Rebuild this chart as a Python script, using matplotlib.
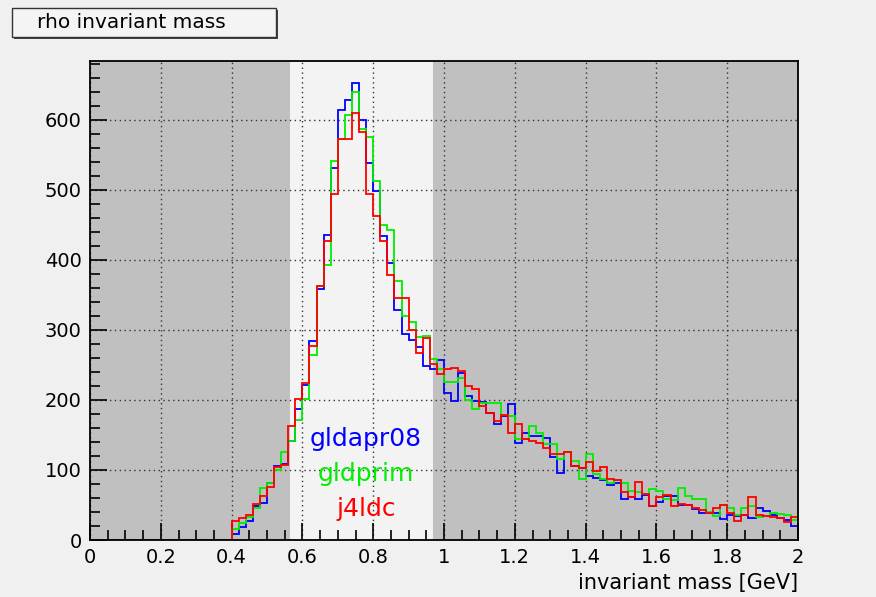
import numpy as np
import matplotlib.pyplot as plt
from matplotlib.patches import Rectangle

# histogram: 100 bins from 0 to 2 GeV, first 20 bins (0 - 0.4) empty
edges = np.linspace(0, 2, 101)
empty = [0] * 20

gldapr08 = [8, 18, 27, 49, 53, 82, 106, 108, 141, 187,
            222, 284, 359, 435, 531, 614, 628, 652, 600, 538,
            499, 434, 396, 329, 294, 286, 275, 248, 244, 257,
            210, 199, 239, 205, 199, 197, 182, 165, 177, 194,
            139, 153, 149, 149, 146, 118, 96, 125, 106, 103,
            92, 89, 85, 78, 82, 58, 62, 58, 64, 48,
            54, 63, 63, 50, 50, 44, 38, 38, 38, 30,
            36, 34, 36, 31, 46, 42, 35, 32, 29, 20]
gldprim = [15, 24, 33, 46, 74, 82, 100, 125, 141, 172,
           201, 264, 362, 392, 541, 573, 607, 640, 587, 575,
           513, 450, 443, 370, 320, 311, 290, 291, 258, 244,
           226, 225, 232, 200, 187, 195, 195, 195, 178, 177,
           144, 144, 163, 153, 137, 137, 115, 125, 113, 87,
           123, 94, 87, 82, 85, 81, 70, 69, 66, 73,
           70, 58, 57, 74, 63, 58, 58, 40, 34, 50,
           46, 36, 46, 48, 33, 34, 38, 37, 36, 28]
j4ldc = [27, 31, 36, 51, 63, 75, 104, 107, 163, 202,
         224, 277, 362, 427, 494, 573, 573, 610, 583, 494,
         462, 427, 379, 345, 345, 300, 267, 289, 252, 237,
         244, 246, 241, 220, 215, 191, 182, 170, 178, 153,
         165, 144, 142, 139, 132, 123, 123, 125, 106, 103,
         111, 98, 104, 87, 86, 69, 62, 83, 66, 49,
         61, 64, 48, 51, 50, 46, 43, 38, 46, 50,
         38, 27, 36, 61, 36, 34, 33, 32, 25, 33]

names = ['gldapr08', 'gldprim', 'j4ldc']
colors = ['#0000ff', '#00ee00', '#ff0000']
series = [gldapr08, gldprim, j4ldc]

bg = '#f0f0f0'
fig = plt.figure(figsize=(8.76, 5.97), dpi=100, facecolor=bg)
ax = fig.add_axes([90/876, 1-540/597, 708/876, 479/597])
ax.set_facecolor('#c0c0c0')
ax.axvspan(0.564, 0.968, color='#f3f3f3', zorder=0.5, lw=0)

for name, col, vals in zip(names, colors, series):
    counts = np.array(empty + vals, dtype=float)
    ax.stairs(counts, edges, color=col, lw=1.3, zorder=3, baseline=None)

ax.set_xlim(0, 2)
ax.set_ylim(0, 684)
ax.set_xticks(np.arange(0, 2.01, 0.2))
ax.set_xticklabels(['%g' % v for v in np.round(np.arange(0, 2.01, 0.2), 1)])
ax.set_xticks(np.arange(0, 2.01, 0.05), minor=True)
ax.set_yticks(np.arange(0, 601, 100))
ax.set_yticks(np.arange(0, 681, 20), minor=True)
ax.grid(True, which='major', color='#333333', ls=(0, (1, 2.5)), lw=1, zorder=1)
ax.tick_params(which='both', direction='in', top=False, right=False,
               labelsize=14, colors='black', pad=6)
ax.tick_params(which='major', length=12, width=1.2)
ax.tick_params(which='minor', length=7, width=1.2)
for s in ax.spines.values():
    s.set_linewidth(1.3)
    s.set_zorder(4)

ax.set_xlabel('invariant mass [GeV]', fontsize=15, loc='right', labelpad=4)

# coloured legend text
for i, (name, col) in enumerate(zip(names, colors)):
    ax.text(0.78, 144 - i * 50, name, color=col, fontsize=18, ha='center', va='center', zorder=5)

# title box with shadow
fig.patches.append(Rectangle((14/876, 1-39/597), 264/876, 29/597, transform=fig.transFigure,
                             facecolor='#444444', edgecolor='none'))
fig.patches.append(Rectangle((12/876, 1-37/597), 264/876, 29/597, transform=fig.transFigure,
                             facecolor='#f4f4f4', edgecolor='#333333', lw=1))
fig.text(37/876, 1-22/597, 'rho invariant mass', fontsize=14.5, va='center', ha='left')

fig.savefig('out.png', dpi=100, facecolor=bg)
